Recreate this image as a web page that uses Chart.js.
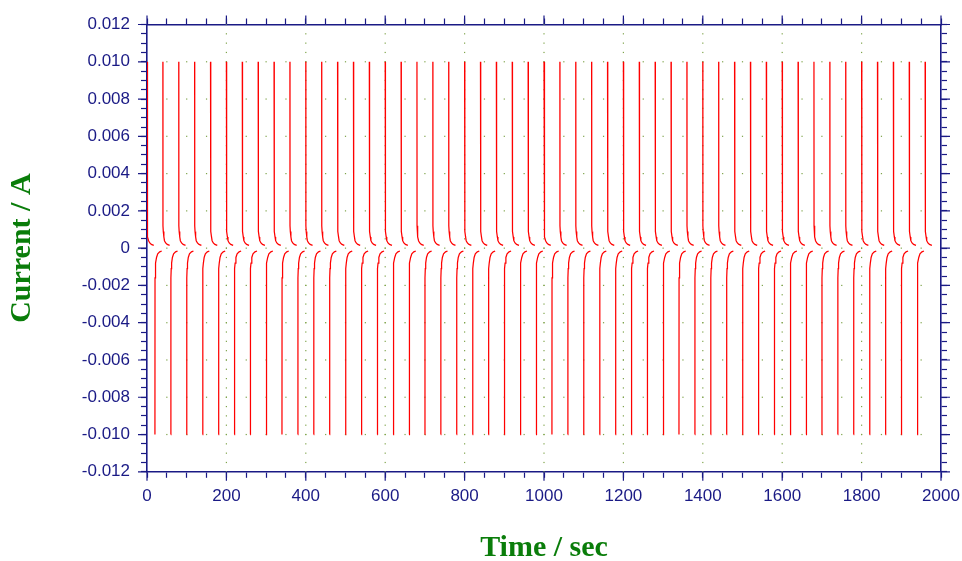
<!DOCTYPE html>
<html>
<head>
<meta charset="utf-8">
<script src="https://cdn.jsdelivr.net/npm/chart.js@4.4.1/dist/chart.umd.min.js"></script>
<style>
  html, body { margin: 0; padding: 0; background: #fff; }
  #wrap { width: 962px; height: 561px; }
</style>
</head>
<body>
<div id="wrap"><canvas id="chart"></canvas></div>
<script>
// pulse start times (s)
const posStarts = [0,40,80,120,160,200,240,280,320,360,400,440,480,520,560,600,640,680,720,760,
  800,840,880,920,960,1000,1040,1080,1120,1160,1200,1240,1280,1320,1360,1400,1440,1480,1520,1560,
  1600,1640,1680,1720,1760,1800,1840,1880,1920,1960];
const negStarts = [20,60,100,140,180,220,260,300,340,380,420,460,500,540,580,620,660,700,740,780,
  820,860,900,940,980,1020,1060,1100,1140,1180,1220,1260,1300,1340,1380,1420,1460,1500,1540,1580,
  1620,1660,1700,1740,1780,1820,1860,1900,1940];

// shape of one pulse: seconds after the step, current (A)
const posDt = [0, 0.2, 1, 2.5, 4, 7, 11, 17];
const posI  = [0.0100, 0.0012, 0.0009, 0.0006, 0.0004, 0.00028, 0.0002, 0.00015];
const negDt = [0, 0.2, 1, 2, 4, 7, 12, 17];
const negI  = [-0.0100, -0.0016, -0.0011, -0.0008, -0.0005, -0.0003, -0.0002, -0.00015];

const xMajor = 200, xMinor = 50;
const yMajor = 0.002, yMinor = 0.0005;

const NAVY = '#1a1a85';
const GREEN = '#0a7d0a';

// one record per pulse, gaps between them
const pulses = [];
posStarts.forEach(t => pulses.push({t, dt: posDt, v: posI}));
negStarts.forEach(t => pulses.push({t, dt: negDt, v: negI}));
pulses.sort((a,b) => a.t - b.t);
const points = [];
pulses.forEach(p => {
  p.dt.forEach((d,i) => points.push({x: p.t + d, y: p.v[i]}));
  points.push({x: p.t + p.dt[p.dt.length-1] + 0.5, y: null});
});

function isMajor(v, step){ return Math.abs(Math.round(v/step)*step - v) < 1e-9; }

// green dotted grid: dots along major lines at the minor spacing
const dotGrid = {
  id: 'dotGrid',
  beforeDatasetsDraw(chart){
    const {ctx, scales:{x, y}} = chart;
    ctx.save();
    ctx.fillStyle = '#7ea34a';
    for (let xv = xMajor; xv < 2000; xv += xMajor){
      const px = x.getPixelForValue(xv);
      for (let yv = -0.012; yv <= 0.0120001; yv += yMinor){
        ctx.fillRect(px-0.6, y.getPixelForValue(yv)-0.6, 1.2, 1.2);
      }
    }
    for (let k = -5; k <= 5; k++){
      const py = y.getPixelForValue(k*yMajor);
      for (let xv = xMinor; xv < 2000; xv += xMinor){
        ctx.fillRect(x.getPixelForValue(xv)-0.6, py-0.6, 1.2, 1.2);
      }
    }
    ctx.restore();
  }
};

// longer tick marks at the labelled values
const majorTicks = {
  id: 'majorTicks',
  afterDraw(chart){
    const {ctx, scales} = chart;
    const L = 9;
    ctx.save();
    ctx.strokeStyle = NAVY;
    ctx.lineWidth = 1.2;
    ctx.beginPath();
    [['x','bottom'],['x2','top']].forEach(([id,pos]) => {
      const s = scales[id];
      for (let v = 0; v <= 2000; v += xMajor){
        const px = s.getPixelForValue(v);
        const y0 = pos === 'bottom' ? s.top : s.bottom;
        ctx.moveTo(px, y0);
        ctx.lineTo(px, pos === 'bottom' ? y0 + L : y0 - L);
      }
    });
    [['y','left'],['y2','right']].forEach(([id,pos]) => {
      const s = scales[id];
      for (let k = -6; k <= 6; k++){
        const py = s.getPixelForValue(k*yMajor);
        const x0 = pos === 'left' ? s.right : s.left;
        ctx.moveTo(x0, py);
        ctx.lineTo(pos === 'left' ? x0 - L : x0 + L, py);
      }
    });
    ctx.stroke();
    ctx.restore();
  }
};

const tickFont = {family: '"Liberation Sans", Arial, sans-serif', size: 17};
const titleFont = {family: '"Liberation Serif", "Times New Roman", serif', size: 30, weight: 'bold', lineHeight: 1};
const gridOpts = {drawOnChartArea: false, drawTicks: true, tickLength: 6, tickColor: NAVY, tickWidth: 1.2};
const borderOpts = {display: true, color: NAVY, width: 1.6};

new Chart(document.getElementById('chart'), {
  type: 'line',
  data: {
    datasets: [{
      data: points,
      borderColor: '#ff0000',
      borderWidth: 1.25,
      pointRadius: 0,
      spanGaps: false,
      tension: 0
    }]
  },
  options: {
    responsive: true,
    maintainAspectRatio: false,
    animation: false,
    layout: {padding: 0},
    plugins: {legend: {display: false}, tooltip: {enabled: false}},
    scales: {
      x: {
        type: 'linear', position: 'bottom', min: 0, max: 2000,
        afterFit: s => { s.height = 89.2; s.paddingLeft = 0; s.paddingRight = 0; },
        ticks: {
          stepSize: xMinor, autoSkip: false, maxRotation: 0, color: NAVY, font: tickFont, padding: 8,
          callback: v => isMajor(v, xMajor) ? String(v) : ''
        },
        grid: gridOpts, border: borderOpts,
        title: {display: true, text: 'Time / sec', color: GREEN, font: titleFont, padding: {top: 0, bottom: -2}}
      },
      x2: {
        type: 'linear', position: 'top', min: 0, max: 2000,
        afterFit: s => { s.height = 24.5; s.paddingLeft = 0; s.paddingRight = 0; },
        ticks: {stepSize: xMinor, autoSkip: false, display: false},
        grid: gridOpts, border: borderOpts
      },
      y: {
        type: 'linear', position: 'left', min: -0.012, max: 0.012,
        afterFit: s => { s.width = 147; s.paddingTop = 0; s.paddingBottom = 0; },
        ticks: {
          stepSize: yMinor, autoSkip: false, color: NAVY, font: tickFont, padding: 11,
          callback: v => !isMajor(v, yMajor) ? '' : (Math.abs(v) < 1e-9 ? '0' : v.toFixed(3))
        },
        grid: gridOpts, border: borderOpts,
        title: {display: true, text: 'Current / A', color: GREEN, font: titleFont, padding: {top: 7, bottom: 0}}
      },
      y2: {
        type: 'linear', position: 'right', min: -0.012, max: 0.012,
        afterFit: s => { s.width = 21; s.paddingTop = 0; s.paddingBottom = 0; },
        ticks: {stepSize: yMinor, autoSkip: false, display: false},
        grid: gridOpts, border: borderOpts
      }
    }
  },
  plugins: [dotGrid, majorTicks]
});
</script>
</body>
</html>
